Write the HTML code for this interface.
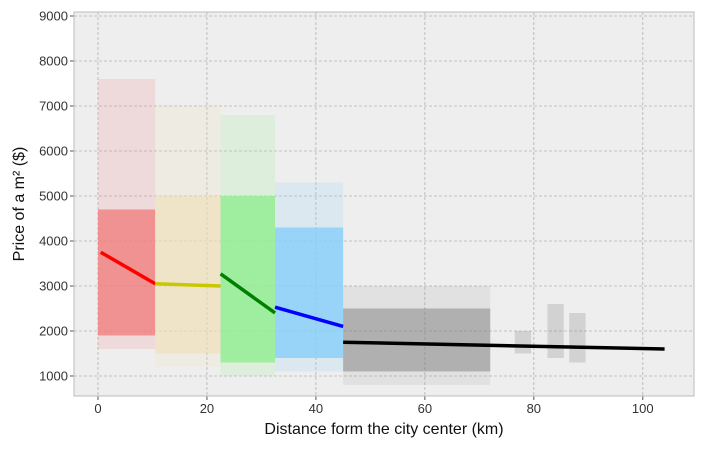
<!DOCTYPE html>
<html><head><meta charset="utf-8"><style>
body{margin:0;background:#fff;font-family:"Liberation Sans",sans-serif}
</style></head><body>
<svg id="chart" width="703" height="448" font-family="Liberation Sans, sans-serif"></svg>
<script>
const clusterNames=['red','yellow','green','blue','black'];
const clusterColors=['#f08080','#f0deb0','#90ee90','#87cefa','#808080'];
const clusterXmin=[0,10.5,22.5,32.5,45];
const clusterXmax=[10.5,22.5,32.5,45,72];
const clusterDenseLo=[1900,1500,1300,1400,1100];
const clusterDenseHi=[4700,5000,5000,4300,2500];
const clusterSparseHi=[7600,7000,6800,5300,3000];
const lineX1=[0.5,10.5,22.5,32.5,45];
const lineY1=[3750,3050,3270,2530,1750];
const lineX2=[10.5,22.5,32.5,45,104];
const lineY2=[3050,3000,2400,2100,1600];
const lineColors=['#ff0000','#c8c800','#008000','#0000ff','#000000'];
const farX=[84,88,78];
const farYlo=[1400,1300,1500];
const farYhi=[2600,2400,2000];
const xTicks=[0,20,40,60,80,100];
const yTicks=[1000,2000,3000,4000,5000,6000,7000,8000,9000];

const L=74,R=694,T=12,B=396;
const xMin=-4.4,xMax=109.4,yMin=555,yMax=9089;
const X=v=>L+(v-xMin)/(xMax-xMin)*(R-L);
const Y=v=>B-(v-yMin)/(yMax-yMin)*(B-T);
const svg=document.getElementById('chart');
const NS='http://www.w3.org/2000/svg';
function mk(tag,attrs,parent){const e=document.createElementNS(NS,tag);for(const k in attrs)e.setAttribute(k,attrs[k]);(parent||svg).appendChild(e);return e;}

let bg=mk('rect',{x:L,y:T,width:R-L,height:B-T,fill:'#eeeeee'});



xTicks.forEach(t=>{
  let g=mk('line',{x1:X(t),x2:X(t),y1:T,y2:B,stroke:'#b2b2b2','stroke-width':0.8,'stroke-dasharray':'3,2'});
  
  
  let tk=mk('line',{x1:X(t),x2:X(t),y1:B,y2:B+4,stroke:'#555'});
  
  
  let tx=mk('text',{x:X(t),y:B+17,'text-anchor':'middle','font-size':13,fill:'#333'});
  tx.textContent=t;
  
  
});
yTicks.forEach(t=>{
  let g=mk('line',{x1:L,x2:R,y1:Y(t),y2:Y(t),stroke:'#b2b2b2','stroke-width':0.8,'stroke-dasharray':'3,2'});
  
  
  let tk=mk('line',{x1:L-4,x2:L,y1:Y(t),y2:Y(t),stroke:'#555'});
  
  
  let tx=mk('text',{x:L-6,y:Y(t)+4.5,'text-anchor':'end','font-size':13,fill:'#333'});
  tx.textContent=t;
  
  
});

clusterNames.forEach((n,i)=>{
  let s=mk('rect',{x:X(clusterXmin[i]),y:Y(clusterSparseHi[i]),width:X(clusterXmax[i])-X(clusterXmin[i]),height:Y(clusterDenseLo[i]-300)-Y(clusterSparseHi[i]),fill:clusterColors[i],opacity:i==4?0.12:0.18});
  
  
  let d=mk('rect',{x:X(clusterXmin[i]),y:Y(clusterDenseHi[i]),width:X(clusterXmax[i])-X(clusterXmin[i]),height:Y(clusterDenseLo[i])-Y(clusterDenseHi[i]),fill:clusterColors[i],opacity:i==1?0.55:(i==4?0.5:0.8)});
  
  
});
farX.forEach((fx,i)=>{
  let d=mk('rect',{x:X(fx-1.5),y:Y(farYhi[i]),width:X(fx+1.5)-X(fx-1.5),height:Y(farYlo[i])-Y(farYhi[i]),fill:'#808080',opacity:0.25});
  
  
});

lineX1.forEach((x1,i)=>{
  let l=mk('line',{x1:X(x1),y1:Y(lineY1[i]),x2:X(lineX2[i]),y2:Y(lineY2[i]),stroke:lineColors[i],'stroke-width':3.5});
  
  
});

let fr=mk('rect',{x:L,y:T,width:R-L,height:B-T,fill:'none',stroke:'#bcbcbc'});


let xl=mk('text',{x:(L+R)/2,y:434,'text-anchor':'middle','font-size':16,fill:'#111'});
xl.textContent='Distance form the city center (km)';


let yl=mk('text',{x:0,y:0,'text-anchor':'middle','font-size':16,fill:'#111',transform:'translate(24,'+(T+B)/2+') rotate(-90)'});
yl.textContent='Price of a m² ($)';


</script>
</body></html>
